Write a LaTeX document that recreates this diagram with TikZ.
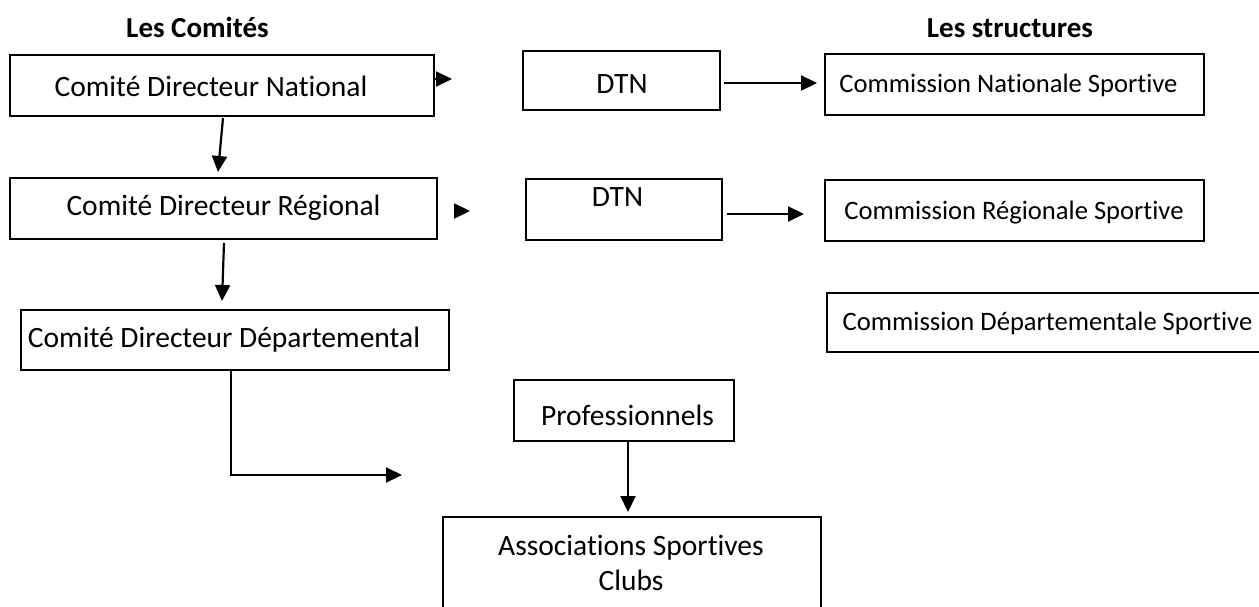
\documentclass[tikz,border=0pt]{standalone}
\usepackage{fontspec}
\setmainfont{Carlito}[Ligatures=NoCommon]
\usetikzlibrary{calc,
	arrows.meta,
	positioning
}
\tikzset{
	box/.style 2 args={draw, line width=2pt, minimum width=#1, minimum height=#2, inner sep=0pt},
	txt/.style={font=\fontsize{29.5}{35}\selectfont, anchor=base, inner sep=0pt, align=center},
	smalltxt/.style={font=\fontsize{26.6}{32}\selectfont, anchor=base, inner sep=0pt},
	title/.style={font=\fontsize{29}{35}\selectfont\bfseries, anchor=base, inner sep=0pt},
	arr/.style={line width=2.2pt, -{Triangle[length=16pt,width=15pt]}},
}

\begin{document}
\begin{tikzpicture}[x=1pt, y=-1pt]

\path[use as bounding box] (0,0) rectangle (1259,606);

% titles

\node[title] (t1) at (197.5,37) {Les Comités};
\node[title] (t2) at (1010,37) {Les structures};

% boxes

\node[box={424pt}{61pt}] (cdn) at (222,85.5) {};
\node[txt] (cdn-t) at (211,96) {Comité Directeur National};

\node[box={197pt}{59pt}] (dtn1) at (621.5,80.5) {};
\node[txt] (dtn1-t) at (622,93) {DTN};

\node[box={379pt}{61pt}] (cns) at (1014.5,84.5) {};
\node[smalltxt] (cns-t) at (1008.5,92) {Commission Nationale Sportive};

\node[box={427pt}{61pt}] (cdr) at (223.5,208.5) {};
\node[txt] (cdr-t) at (223.5,215.5) {Comité Directeur Régional};

\node[box={196pt}{61pt}] (dtn2) at (624,209.5) {};
\node[txt] (dtn2-t) at (617.5,206.5) {DTN};

\node[box={379pt}{61pt}] (crs) at (1014.5,210.5) {};
\node[smalltxt] (crs-t) at (1014,219) {Commission Régionale Sportive};

\node[box={428pt}{60pt}] (cdd) at (235,340) {};
\node[txt] (cdd-t) at (224,347) {Comité Directeur Départemental};

\node[box={443pt}{59pt}] (cds) at (1048.5,322.5) {};
\node[smalltxt] (cds-t) at (1047.5,330) {Commission Départementale Sportive};

\node[box={220pt}{61pt}] (pro) at (624,410.5) {};
\node[txt] (pro-t) at (627.5,425) {Professionnels};

\node[box={378pt}{123pt}] (asc) at (632,578.5) {};
\node[txt] (asc-t) at (631,590) {Associations Sportives\\Clubs};

% arrows

\coordinate (a1) at (452,79);
\coordinate (a2) at (470,211);
\coordinate (a7) at (402,475);

\draw[arr] (cdn.east |- a1) -- (a1);
\draw[arr] ($(cdr.east |- a2)+(17,0)$) -- (a2);

\draw[arr] ($(dtn1.east)+(3,2.5)$) -- ($(cns.west)+(-7,-1.5)$);
\draw[arr] ($(dtn2.east)+(4,4.5)$) -- ($(crs.west)+(-20,3.5)$);

\draw[arr] ($(cdn.south)+(1,1)$) -- ($(cdr.north)+(-5.5,-5)$);
\draw[arr] ($(cdr.south)+(0.5,3)$) -- ($(cdd.north)+(-13,-8)$);

\draw[arr] ($(cdd.south)+(-4,0)$) |- (a7);

\draw[arr] ($(pro.south)+(4,0)$) -- ($(asc.north)+(-4,-4)$);

\end{tikzpicture}
\end{document}
